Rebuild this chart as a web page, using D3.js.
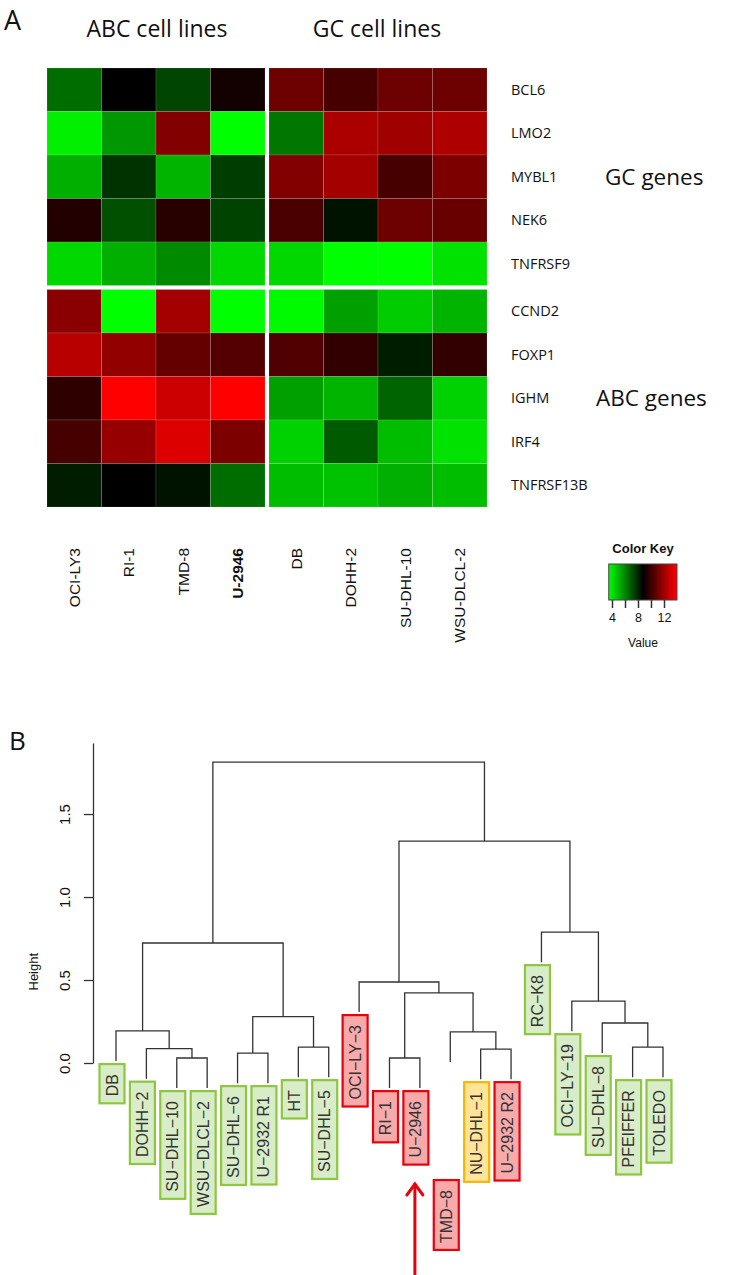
<!DOCTYPE html>
<html><head><meta charset="utf-8">
<script src="https://cdn.jsdelivr.net/npm/d3@7"></script>
<style>
html,body{margin:0;padding:0;background:#fff;}
svg{display:block;}
</style></head>
<body>
<svg id="chart" width="732" height="1275"></svg>
<script>
// ---------- Panel A data ----------
const geneRows = ["BCL6","LMO2","MYBL1","NEK6","TNFRSF9","CCND2","FOXP1","IGHM","IRF4","TNFRSF13B"];
const gcGenes = ["BCL6","LMO2","MYBL1","NEK6","TNFRSF9"];
const cellLines = ["OCI-LY3","RI-1","TMD-8","U-2946","DB","DOHH-2","SU-DHL-10","WSU-DLCL-2"];
const abcLines = ["OCI-LY3","RI-1","TMD-8","U-2946"];
const expr = [
  [6.5, 8.75, 7.3, 9.15, 11.0, 10.2, 11.0, 11.0],
  [3.8, 5.65, 11.45, 3.5, 6.3, 12.25, 12.05, 12.35],
  [5.15, 7.7, 5.05, 7.5, 11.45, 12.15, 10.2, 11.3],
  [9.45, 7.1, 9.55, 7.4, 10.3, 8.35, 11.0, 10.9],
  [4.3, 5.15, 5.9, 4.3, 4.3, 3.5, 3.5, 4.1],
  [11.6, 3.5, 12.15, 3.5, 3.6, 5.45, 4.55, 5.05],
  [12.55, 11.75, 10.8, 10.5, 10.4, 9.8, 8.15, 9.8],
  [9.7, 14.0, 12.95, 14.0, 5.45, 5.05, 6.7, 4.45],
  [10.2, 11.85, 13.3, 11.3, 4.45, 6.9, 4.85, 4.1],
  [8.15, 8.75, 8.35, 6.5, 4.85, 4.75, 5.15, 4.85]
];
const colorDomain = [3.5, 8.75, 14];
const keyTicks = [4, 6, 8, 10, 12];
const keyTickLabels = [4, 8, 12];

// ---------- Panel B data ----------
const leaves = ["DB","DOHH-2","SU-DHL-10","WSU-DLCL-2","SU-DHL-6","U-2932 R1","HT","SU-DHL-5",
  "OCI-LY-3","RI-1","U-2946","TMD-8","NU-DHL-1","U-2932 R2","RC-K8","OCI-LY-19","SU-DHL-8","PFEIFFER","TOLEDO"];
const leafGroup = ["GCB","GCB","GCB","GCB","GCB","GCB","GCB","GCB",
  "ABC","ABC","ABC","ABC","UNC","ABC","GCB","GCB","GCB","GCB","GCB"];
// R-style merge matrix: negative = leaf (1-based), positive = earlier merge (1-based)
const merges = [
  [-3,-4],[-10,-11],[-5,-6],[-13,-14],[-2,1],[-7,-8],[-18,-19],[-1,5],[-12,4],[-17,7],
  [3,6],[-16,10],[2,9],[-9,13],[8,11],[-15,12],[14,16],[15,17]
];
const mergeHeights = [0.03,0.03,0.06,0.084,0.087,0.096,0.096,0.193,0.187,0.241,
  0.28,0.373,0.422,0.488,0.723,0.789,1.337,1.813];
const heightTicks = [0, 0.5, 1.0, 1.5];
const hang = 0.1;

const svg = d3.select("#chart");
const LS = "'Liberation Sans', Arial, sans-serif";
const OS = "'Open Sans', sans-serif";

// ================= Panel A =================
const color = d3.scaleLinear().domain(colorDomain).range(["#00ff00","#000000","#ff0000"]);
const gap = 4;
const xBand = d3.scaleBand().domain(cellLines).range([47, 487 - gap]);
const yBand = d3.scaleBand().domain(geneRows).range([68, 507 - gap]);
const cx = c => xBand(c) + (abcLines.includes(c) ? 0 : gap);
const cy = g => yBand(g) + (gcGenes.includes(g) ? 0 : gap);
const rowMid = g => cy(g) + yBand.bandwidth() / 2;

svg.append("text").attr("x", 4).attr("y", 30).attr("font-family", OS)
  .attr("font-size", 27).attr("fill", "#111").text("A");

svg.append("text").attr("x", 157).attr("y", 37).attr("text-anchor", "middle")
  .attr("font-family", OS).attr("font-size", 23).attr("fill", "#111").text("ABC cell lines");
svg.append("text").attr("x", 377).attr("y", 37).attr("text-anchor", "middle")
  .attr("font-family", OS).attr("font-size", 23).attr("fill", "#111").text("GC cell lines");

const cells = [];
geneRows.forEach((g, i) => cellLines.forEach((c, j) => cells.push({g, c, v: expr[i][j]})));
svg.append("g").selectAll("rect").data(cells).join("rect")
  .attr("x", d => cx(d.c)).attr("y", d => cy(d.g))
  .attr("width", xBand.bandwidth()).attr("height", yBand.bandwidth())
  .attr("fill", d => color(d.v))
  .attr("stroke", "rgba(255,255,255,0.13)").attr("stroke-width", 1);

svg.append("g").selectAll("text").data(geneRows).join("text")
  .attr("x", 511).attr("y", g => rowMid(g))
  .attr("dy", "0.35em").attr("font-family", OS).attr("font-size", 14.5).attr("fill", "#111")
  .text(g => g);

svg.append("text").attr("x", 605).attr("y", rowMid("MYBL1")).attr("dy", "0.35em")
  .attr("font-family", OS).attr("font-size", 22.5).attr("fill", "#111").text("GC genes");
svg.append("text").attr("x", 596).attr("y", rowMid("IGHM")).attr("dy", "0.35em")
  .attr("font-family", OS).attr("font-size", 22.5).attr("fill", "#111").text("ABC genes");

svg.append("g").selectAll("text").data(cellLines).join("text")
  .attr("transform", c => `translate(${cx(c) + xBand.bandwidth() / 2},548) rotate(-90)`)
  .attr("text-anchor", "end").attr("dominant-baseline", "central")
  .attr("font-family", LS).attr("font-size", 15.5).attr("fill", "#111")
  .attr("font-weight", c => c === "U-2946" ? "bold" : "normal")
  .text(c => c);

// Color key
const keyX = d3.scaleLinear().domain([4, 12]).range([612, 664]);
const defs = svg.append("defs");
const grad = defs.append("linearGradient").attr("id", "keygrad");
colorDomain.forEach((v, i) => grad.append("stop")
  .attr("offset", (v - colorDomain[0]) / (colorDomain[2] - colorDomain[0]))
  .attr("stop-color", color(v)));
svg.append("text").attr("x", 643).attr("y", 553).attr("text-anchor", "middle")
  .attr("font-family", LS).attr("font-weight", "bold").attr("font-size", 13).attr("fill", "#111")
  .text("Color Key");
svg.append("rect").attr("x", keyX(colorDomain[0])).attr("y", 564)
  .attr("width", keyX(colorDomain[2]) - keyX(colorDomain[0])).attr("height", 36)
  .attr("fill", "url(#keygrad)").attr("stroke", "#444").attr("stroke-width", 1);
const keyAxis = d3.axisBottom(keyX).tickValues(keyTicks).tickSize(8)
  .tickFormat(d => keyTickLabels.includes(d) ? d : "");
const kg = svg.append("g").attr("transform", "translate(0,600)").call(keyAxis);
kg.select(".domain").remove();
kg.selectAll(".tick line").attr("stroke", "#333").attr("stroke-width", 1.5);
kg.selectAll(".tick text").attr("font-family", LS).attr("font-size", 12.5).attr("fill", "#111").attr("y", 13);
svg.append("text").attr("x", 643).attr("y", 647).attr("text-anchor", "middle")
  .attr("font-family", LS).attr("font-size", 12).attr("fill", "#111").text("Value");

// ================= Panel B =================
const yH = d3.scaleLinear().domain([0, 1.928]).range([1063, 743]);
const xL = d3.scalePoint().domain(leaves).range([116, 663]);
const maxH = d3.max(mergeHeights);
const hangH = hang * maxH;

svg.append("text").attr("x", 9).attr("y", 750).attr("font-family", OS)
  .attr("font-size", 26).attr("fill", "#111").text("B");

const yAxis = d3.axisLeft(yH).tickValues(heightTicks).tickSize(9).tickSizeOuter(0)
  .tickFormat(d3.format(".1f"));
const ag = svg.append("g").attr("transform", "translate(93,0)").call(yAxis);
ag.select(".domain").attr("stroke", "#333").attr("stroke-width", 1.3);
ag.selectAll(".tick line").attr("stroke", "#333").attr("stroke-width", 1.3);
ag.selectAll(".tick text").attr("font-family", LS).attr("font-size", 15).attr("fill", "#111")
  .attr("text-anchor", "middle").attr("x", null).attr("dy", null)
  .attr("transform", "translate(-29,0) rotate(-90)").attr("dominant-baseline", "central");
svg.append("text").attr("transform", `translate(33,${yH(0.55)}) rotate(-90)`)
  .attr("text-anchor", "middle").attr("dominant-baseline", "central")
  .attr("font-family", LS).attr("font-size", 13).attr("fill", "#111").text("Height");

// compute node positions
const nodeX = [], nodeY = [];
const leafEnd = {};
function childPos(id, parentH) {
  if (id < 0) {
    const name = leaves[-id - 1];
    const y = yH(parentH - hangH);
    leafEnd[name] = y;
    return [xL(name), y];
  }
  return [nodeX[id - 1], nodeY[id - 1]];
}
const dendPaths = [];
merges.forEach((m, i) => {
  const h = mergeHeights[i];
  const a = childPos(m[0], h), b = childPos(m[1], h);
  const ym = yH(h);
  nodeX[i] = (a[0] + b[0]) / 2;
  nodeY[i] = ym;
  dendPaths.push(`M${a[0]},${a[1]}V${ym}H${b[0]}V${b[1]}`);
});
svg.append("g").selectAll("path").data(dendPaths).join("path")
  .attr("d", d => d).attr("fill", "none").attr("stroke", "#333").attr("stroke-width", 1.3);

// label boxes
const groupStyle = {
  GCB: {fill: "#d8ecc8", stroke: "#8dc63f"},
  ABC: {fill: "#f8a9a9", stroke: "#e8000b"},
  UNC: {fill: "#ffe49a", stroke: "#f7b500"}
};
const labelShift = {"TMD-8": 115};
const lg = svg.append("g");
leaves.forEach((name, i) => {
  const st = groupStyle[leafGroup[i]];
  const x = xL(name) - 4;
  const top = leafEnd[name] + 3 + (labelShift[name] || 0);
  const g = lg.append("g");
  const rect = g.append("rect");
  const t = g.append("text")
    .attr("transform", `translate(${x},${top + 10}) rotate(-90)`)
    .attr("text-anchor", "end").attr("dominant-baseline", "central")
    .attr("font-family", LS).attr("font-size", 16).attr("fill", "#333")
    .text(name.replace(/-/g, "\u2212"));
  const len = t.node().getComputedTextLength();
  rect.attr("x", x - 12.5).attr("y", top).attr("width", 25).attr("height", len + 17)
    .attr("fill", st.fill).attr("stroke", st.stroke).attr("stroke-width", 2.2);
});

// red arrow
const ax = xL("U-2946") - 5;
const arrowG = svg.append("g").attr("stroke", "#e8000b").attr("stroke-width", 3)
  .attr("fill", "none").attr("stroke-linecap", "round");
arrowG.append("path").attr("d", `M${ax},1274V1184`);
arrowG.append("path").attr("d", `M${ax - 8},1195L${ax},1184L${ax + 8},1195`);
</script>
</body></html>
